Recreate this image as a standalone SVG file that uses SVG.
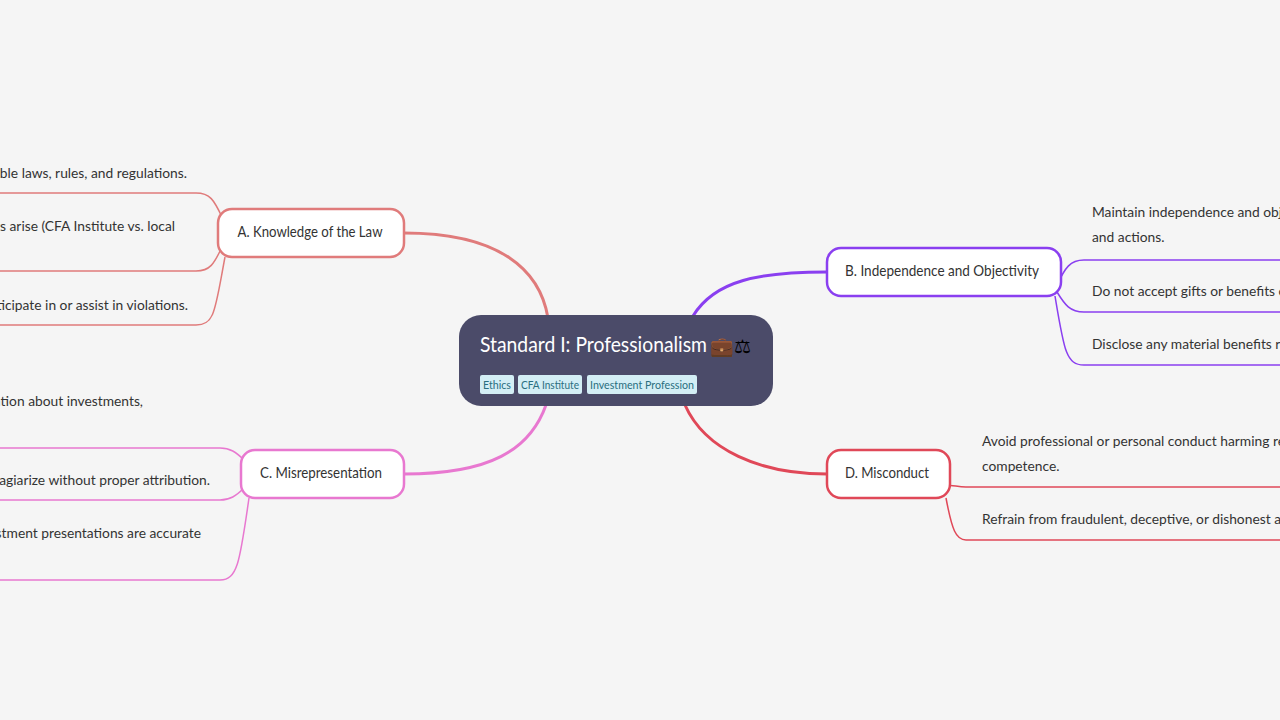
<svg xmlns="http://www.w3.org/2000/svg" width="1280" height="720" viewBox="0 0 1280 720">
<style>
text{font-family:"Source Sans Pro",Lato,"Liberation Sans",sans-serif;}
.leaf{font-size:13.8px;fill:#333;}
.node{fill:#fff;stroke-width:2.5;}
.nt{font-size:15px;fill:#333;text-anchor:middle;}
.c{fill:none;stroke-width:3;}
.l{fill:none;stroke-width:1.5;}
.tag{fill:#d3eef5;}
.tt{font-size:12px;fill:#2a6f80;}
</style>
<rect width="1280" height="720" fill="#f5f5f5"/>
<g id="connectors">
<path class="c" stroke="#e07b7b" d="M548,318 C540,270 500,233 404,233"/>
<path class="c" stroke="#8a3ff0" d="M693,316 C715,280 760,272 827,272"/>
<path class="c" stroke="#e878d0" d="M546,405 C530,450 490,474 404,474"/>
<path class="c" stroke="#e04858" d="M685,405 C705,450 760,474 827,474"/>
<g stroke="#e07b7b" class="l">
<path d="M222,217 C214,200 210,193 196,193 L0,193"/>
<path d="M222,247 C214,264 210,271 196,271 L0,271"/>
<path d="M225,257 C215,310 215,325 196,325 L0,325"/>
</g>
<g stroke="#8a3ff0" class="l">
<path d="M1057,285 C1065,268 1070,260 1084,260 L1280,260"/>
<path d="M1057,292 C1065,305 1070,312 1084,312 L1280,312"/>
<path d="M1055,296 C1064,350 1066,365 1084,365 L1280,365"/>
</g>
<g stroke="#e878d0" class="l">
<path d="M244,460 C236,452 230,448 220,448 L0,448"/>
<path d="M244,488 C236,496 230,500 220,500 L0,500"/>
<path d="M249,498 C240,560 238,580 220,580 L0,580"/>
</g>
<g stroke="#e04858" class="l">
<path d="M946,486 C952,484 956,487 966,487 L1280,487"/>
<path d="M946,498 C952,530 956,540 966,540 L1280,540"/>
</g>
</g>
<g id="root">
<rect x="459" y="315" width="314" height="91" rx="22" fill="#4b4b69"/>
<text x="480" y="352" font-size="22" fill="#fff" textLength="227" lengthAdjust="spacingAndGlyphs">Standard I: Professionalism</text>
<text x="710" y="353" font-size="19">💼⚖</text>
<rect class="tag" x="480" y="375" width="34" height="19" rx="2"/>
<text class="tt" x="483" y="389" textLength="28" lengthAdjust="spacingAndGlyphs">Ethics</text>
<rect class="tag" x="518" y="375" width="64" height="19" rx="2"/>
<text class="tt" x="521" y="389" textLength="58" lengthAdjust="spacingAndGlyphs">CFA Institute</text>
<rect class="tag" x="587" y="375" width="110" height="19" rx="2"/>
<text class="tt" x="590" y="389" textLength="104" lengthAdjust="spacingAndGlyphs">Investment Profession</text>
</g>
<g id="nodeA">
<rect class="node" stroke="#e07b7b" x="218" y="209" width="186" height="48" rx="14"/>
<text class="nt" x="310" y="237" textLength="145" lengthAdjust="spacingAndGlyphs">A. Knowledge of the Law</text>
<g class="leaf" text-anchor="end">
<text x="187" y="178">ble laws, rules, and regulations.</text>
<text x="175" y="231">ts arise (CFA Institute vs. local</text>
<text x="188" y="310">ticipate in or assist in violations.</text>
</g>
</g>
<g id="nodeB">
<rect class="node" stroke="#8a3ff0" x="827" y="248" width="234" height="48" rx="14"/>
<text class="nt" x="942" y="276" textLength="194" lengthAdjust="spacingAndGlyphs">B. Independence and Objectivity</text>
<g class="leaf">
<text x="1092" y="217">Maintain independence and obj</text>
<text x="1092" y="242">and actions.</text>
<text x="1092" y="296">Do not accept gifts or benefits c</text>
<text x="1092" y="349">Disclose any material benefits re</text>
</g>
</g>
<g id="nodeC">
<rect class="node" stroke="#e878d0" x="241" y="450" width="163" height="48" rx="14"/>
<text class="nt" x="321" y="478" textLength="122" lengthAdjust="spacingAndGlyphs">C. Misrepresentation</text>
<g class="leaf" text-anchor="end">
<text x="143" y="406">ation about investments,</text>
<text x="210" y="485">agiarize without proper attribution.</text>
<text x="201" y="538">stment presentations are accurate</text>
</g>
</g>
<g id="nodeD">
<rect class="node" stroke="#e04858" x="827" y="450" width="123" height="48" rx="14"/>
<text class="nt" x="887" y="478" textLength="84" lengthAdjust="spacingAndGlyphs">D. Misconduct</text>
<g class="leaf">
<text x="982" y="446">Avoid professional or personal conduct harming re</text>
<text x="982" y="471">competence.</text>
<text x="982" y="524">Refrain from fraudulent, deceptive, or dishonest ac</text>
</g>
</g>
</svg>
